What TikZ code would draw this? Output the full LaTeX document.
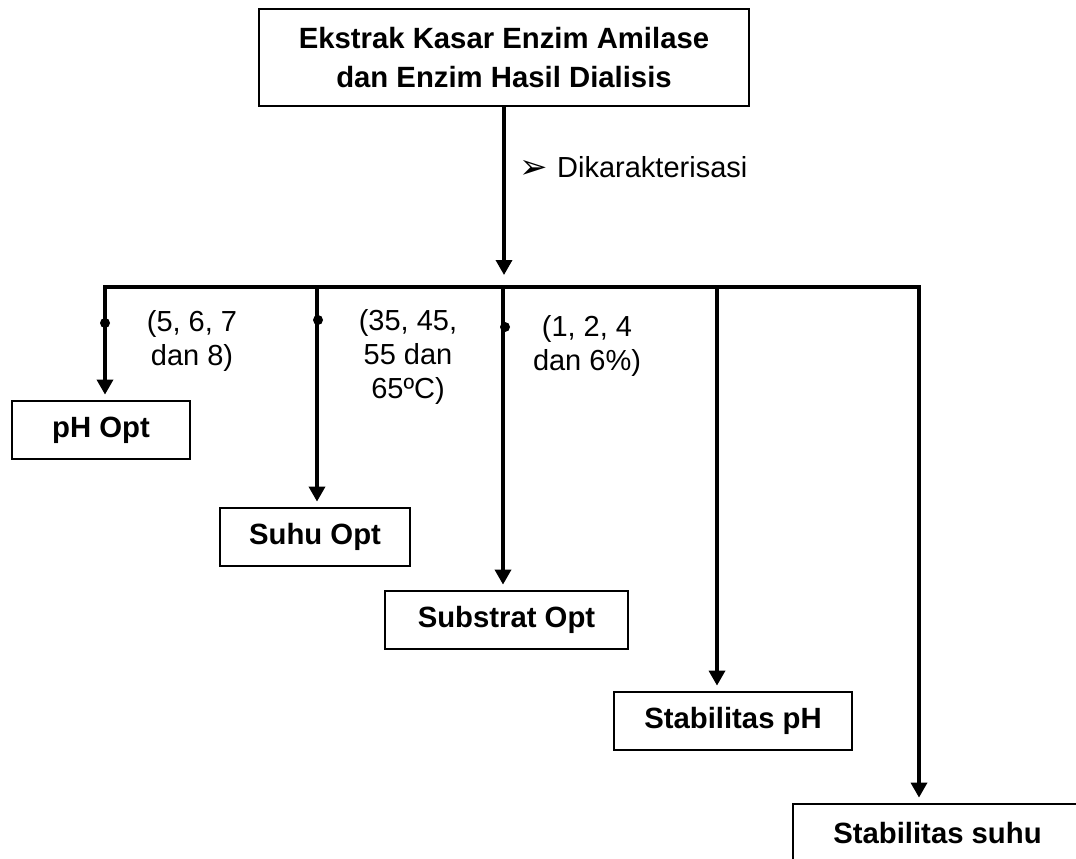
\documentclass[tikz,border=0pt]{standalone}
\usepackage{fontspec}
\setmainfont{Liberation Sans}
\newfontfamily\dejavu{DejaVu Sans}
\usetikzlibrary{arrows.meta,positioning}

\begin{document}
\begin{tikzpicture}[x=1pt, y=-1pt]
	\tikzstyle{box} = [ draw, rectangle, line width=2.8pt, minimum height=58, align=center, font={\fontsize{29.3}{39}\selectfont\bfseries}];
	\tikzstyle{info} = [ align=center, font={\fontsize{29}{34}\selectfont}];
	\tikzstyle{point} = [ line width=3.4pt, -{Triangle[length=15pt, width=16pt]}, shorten >=5pt];
	\tikzstyle{dot} = [ circle, fill, inner sep=0pt, minimum size=10pt];

	\path[use as bounding box, clip] (0,0) rectangle (1076,859);

	\node[box, minimum width=490, minimum height=97] (top) at (504,57.5) {Ekstrak Kasar Enzim Amilase\\dan Enzim Hasil Dialisis};

	\node[box, minimum width=178] (ph) at (101,430) {pH Opt};
	\node[box, minimum width=190] (suhu) at (315,537) {Suhu Opt};
	\node[box, minimum width=243] (substrat) at (506.5,620) {Substrat Opt};
	\node[box, minimum width=238] (stabph) at (733,721) {Stabilitas pH};
	\node[box, minimum width=289] (stabsuhu) at (937.5,833) {Stabilitas suhu};

	% branches from the bar
	\foreach \x/\t [count=\i] in {105/ph, 317/suhu, 503/substrat, 717/stabph, 919/stabsuhu} {
		\coordinate (b\i) at (\x,287);
		\draw[point] (b\i) -- (b\i |- \t.north);
	}
	\draw[line width=3.4pt, line cap=rect] (b1) -- (b5);

	\draw[point, shorten >=12pt] (top.south) -- (top.south |- b1);
	\node[anchor=base west, inner sep=0pt, font={\dejavu\fontsize{34}{34}\selectfont}] (bul) at (519,178) {➢};
	\node[info, anchor=base west, inner sep=0pt] (kar) at (557,177) {Dikarakterisasi};

	% ranges
	\node[dot] (d1) at (105,323) {};
	\node[dot] (d2) at (318,320) {};
	\node[dot] (d3) at (505,327) {};
	\node[info] (r1) at (192,341) {(5, 6, 7\\dan 8)};
	\node[info] (r2) at (408,357) {(35, 45,\\55 dan\\65ºC)};
	\node[info] (r3) at (587,346) {(1, 2, 4\\dan 6\%)};
\end{tikzpicture}
\end{document}
